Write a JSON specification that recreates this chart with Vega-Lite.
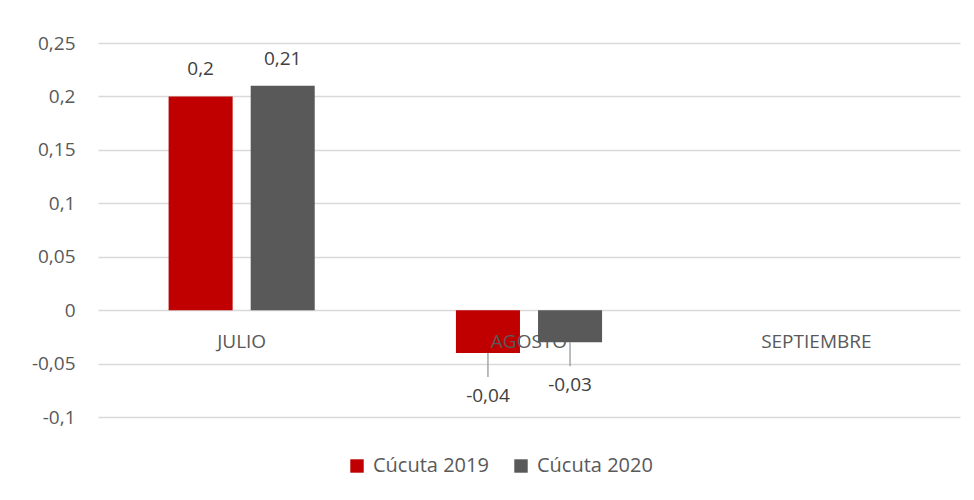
{
  "$schema": "https://vega.github.io/schema/vega-lite/v6.json",
  "autosize": {"type": "none"},
  "width": 862,
  "height": 374,
  "padding": {"left": 98, "top": 43, "right": 14, "bottom": 83},
  "background": "white",
  "config": {
    "view": {"stroke": null},
    "font": "Open Sans"
  },
  "datasets": {
    "valores": [
      {"mes": "JULIO", "serie": "Cúcuta 2019", "valor": 0.2, "etiqueta": "0,2"},
      {"mes": "JULIO", "serie": "Cúcuta 2020", "valor": 0.21, "etiqueta": "0,21"},
      {"mes": "AGOSTO", "serie": "Cúcuta 2019", "valor": -0.04, "etiqueta": "-0,04"},
      {"mes": "AGOSTO", "serie": "Cúcuta 2020", "valor": -0.03, "etiqueta": "-0,03"}
    ],
    "meses": [{"mes": "JULIO", "cero": 0}, {"mes": "AGOSTO", "cero": 0}, {"mes": "SEPTIEMBRE", "cero": 0}]
  },
  "layer": [
    {
      "data": {"name": "valores"},
      "mark": {"type": "bar"},
      "encoding": {
        "x": {
          "field": "mes", "type": "nominal",
          "scale": {"domain": ["JULIO", "AGOSTO", "SEPTIEMBRE"], "paddingInner": 0, "paddingOuter": 0},
          "axis": null
        },
        "y": {
          "field": "valor", "type": "quantitative",
          "scale": {"domain": [-0.1, 0.25], "nice": false, "zero": false},
          "axis": {
            "title": null,
            "values": [-0.1, -0.05, 0, 0.05, 0.1, 0.15, 0.2, 0.25],
            "labelExpr": "replace(replace(format(datum.value, ''), '.', ','), '\u2212', '-')",
            "domain": false, "ticks": false,
            "labelPadding": 23,
            "labelFontSize": 19, "labelColor": "#595959", "labelFont": "Open Sans",
            "gridColor": "#d9d9d9", "gridWidth": 1.3
          }
        },
        "xOffset": {"field": "serie", "type": "nominal", "scale": {"paddingInner": 0.22, "paddingOuter": 0.86}},
        "color": {
          "field": "serie", "type": "nominal",
          "scale": {"domain": ["Cúcuta 2019", "Cúcuta 2020"], "range": ["#c00000", "#595959"]},
          "legend": {
            "title": null, "orient": "none", "direction": "horizontal",
            "legendX": 249, "legendY": 413,
            "symbolType": "square", "symbolSize": 180, "symbolStrokeWidth": 0,
            "labelFontSize": 20, "labelColor": "#595959", "labelFont": "Open Sans",
            "columnPadding": 22, "labelOffset": 6
          }
        }
      }
    },
    {
      "data": {"name": "valores"},
      "transform": [{"filter": "datum.valor > 0"}],
      "mark": {"type": "text", "dy": -27, "baseline": "middle", "fontSize": 19, "color": "#404040"},
      "encoding": {
        "x": {"field": "mes", "type": "nominal"},
        "y": {"field": "valor", "type": "quantitative"},
        "xOffset": {"field": "serie", "type": "nominal"},
        "text": {"field": "etiqueta"}
      }
    },
    {
      "data": {"name": "valores"},
      "transform": [{"filter": "datum.valor < 0"}],
      "mark": {"type": "rule", "color": "#a6a6a6", "strokeWidth": 1.5, "y2Offset": 24},
      "encoding": {
        "x": {"field": "mes", "type": "nominal"},
        "y": {"field": "valor", "type": "quantitative"},
        "xOffset": {"field": "serie", "type": "nominal"},
        "y2": {"field": "valor"}
      }
    },
    {
      "data": {"name": "valores"},
      "transform": [{"filter": "datum.valor < 0"}],
      "mark": {"type": "text", "dy": 43, "baseline": "middle", "fontSize": 19, "color": "#404040"},
      "encoding": {
        "x": {"field": "mes", "type": "nominal"},
        "y": {"field": "valor", "type": "quantitative"},
        "xOffset": {"field": "serie", "type": "nominal"},
        "text": {"field": "etiqueta"}
      }
    },
    {
      "data": {"name": "meses"},
      "mark": {"type": "text", "dy": 32, "baseline": "middle", "fontSize": 19, "color": "#595959"},
      "encoding": {
        "x": {"field": "mes", "type": "nominal"},
        "y": {"field": "cero", "type": "quantitative"},
        "text": {"field": "mes"}
      }
    }
  ]
}
